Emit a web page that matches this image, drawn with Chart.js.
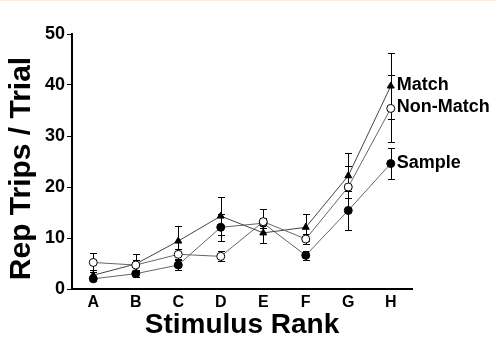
<!DOCTYPE html>
<html>
<head>
  <title>Stimulus Rank</title>
  <script src="https://cdn.jsdelivr.net/npm/chart.js"></script>
  <style>
    html, body { margin: 0; padding: 0; background: #fff; }
    body { border-top: 1px solid #fdf0d8; box-sizing: border-box; }
    canvas { display: block; }
  </style>
</head>
<body>
  <canvas id="chart" width="496" height="343"></canvas>

  <script>
    const ranks = ["A", "B", "C", "D", "E", "F", "G", "H"];

    const matchVals = [2.7, 4.9, 9.4, 14.3, 11.0, 12.1, 22.2, 39.8];
    const matchErr = [1.0, 2.0, 2.9, 3.7, 2.0, 2.6, 4.4, 6.4];

    const nonMatchVals = [5.2, 4.7, 6.8, 6.4, 13.2, 9.8, 20.0, 35.4];
    const nonMatchErr = [1.8, 1.0, 1.0, 1.0, 2.5, 1.0, 4.2, 6.5];

    const sampleVals = [2.0, 3.0, 4.7, 12.1, 12.9, 6.6, 15.4, 24.6];
    const sampleErr = [0.5, 0.6, 1.0, 2.7, 1.0, 0.9, 3.8, 3.0];

    const seriesNames = ["Non-Match", "Match", "Sample"];
    const yTitle = "Rep Trips / Trial";
    const xTitle = "Stimulus Rank";

    const FONT = "'Liberation Sans', Arial, sans-serif";
    const ctx = document.getElementById("chart").getContext("2d");

    // vertical error bars with small caps, drawn under the markers
    const errorBars = {
      id: "errorBars",
      beforeDatasetsDraw(chart) {
        const c = chart.ctx, y = chart.scales.y;
        c.save();
        c.strokeStyle = "#000";
        c.lineWidth = 1;
        chart.data.datasets.forEach((ds, i) => {
          const meta = chart.getDatasetMeta(i);
          meta.data.forEach((pt, j) => {
            const v = ds.data[j], e = ds.err[j];
            const top = Math.round(y.getPixelForValue(v + e)) + 0.5;
            const bot = Math.round(y.getPixelForValue(v - e)) + 0.5;
            const x = Math.round(pt.x) + 0.5;
            c.beginPath();
            c.moveTo(x, top); c.lineTo(x, bot);
            c.moveTo(x - 3.5, top); c.lineTo(x + 3.5, top);
            c.moveTo(x - 3.5, bot); c.lineTo(x + 3.5, bot);
            c.stroke();
          });
        });
        c.restore();
      }
    };

    // series names next to the last point, plus the rotated y title
    const labels = {
      id: "labels",
      afterDatasetsDraw(chart) {
        const c = chart.ctx;
        c.save();
        c.fillStyle = "#000";
        c.font = "bold 18px " + FONT;
        c.textBaseline = "middle";
        c.textAlign = "left";
        chart.data.datasets.forEach((ds, i) => {
          const meta = chart.getDatasetMeta(i);
          const pt = meta.data[meta.data.length - 1];
          c.fillText(ds.label, pt.x + 6, pt.y - 1);
        });

        const area = chart.chartArea;
        c.font = "bold 30px " + FONT;
        c.textAlign = "center";
        c.translate(22, (area.top + area.bottom) / 2 + 7);
        c.rotate(-Math.PI / 2);
        c.fillText(yTitle, 0, 0);
        c.restore();
      }
    };

    new Chart(ctx, {
      type: "line",
      data: {
        labels: ranks,
        datasets: [
          {
            label: seriesNames[0],
            data: nonMatchVals,
            err: nonMatchErr,
            borderColor: "#666",
            borderWidth: 1,
            pointStyle: "circle",
            pointRadius: 4,
            pointBackgroundColor: "#fff",
            pointBorderColor: "#000",
            pointBorderWidth: 1
          },
          {
            label: seriesNames[1],
            data: matchVals,
            err: matchErr,
            borderColor: "#444",
            borderWidth: 1,
            pointStyle: "triangle",
            pointRadius: 4,
            pointBackgroundColor: "#000",
            pointBorderColor: "#000",
            pointBorderWidth: 1
          },
          {
            label: seriesNames[2],
            data: sampleVals,
            err: sampleErr,
            borderColor: "#666",
            borderWidth: 1,
            pointStyle: "circle",
            pointRadius: 4,
            pointBackgroundColor: "#000",
            pointBorderColor: "#000",
            pointBorderWidth: 1
          }
        ]
      },
      options: {
        responsive: false,
        animation: false,
        layout: { padding: { left: 0, top: 33, right: 84, bottom: 0 } },
        plugins: {
          legend: { display: false },
          tooltip: { enabled: false }
        },
        scales: {
          x: {
            type: "category",
            offset: true,
            afterFit(s) { s.height = 55; },
            grid: { display: true, drawOnChartArea: false, drawTicks: false },
            border: { display: true, color: "#000", width: 2 },
            ticks: {
              color: "#000",
              padding: 4,
              font: { family: FONT, size: 16, weight: "bold" }
            },
            title: {
              display: true,
              text: xTitle,
              color: "#000",
              padding: { top: 0, bottom: 2 },
              font: { family: FONT, size: 28, weight: "bold" }
            }
          },
          y: {
            min: 0,
            max: 50,
            afterFit(s) { s.width = 72; },
            grid: { display: true, drawOnChartArea: false, drawTicks: true, tickLength: 5, color: "#000" },
            border: { display: true, color: "#000", width: 2 },
            ticks: {
              stepSize: 10,
              color: "#000",
              padding: 2,
              font: { family: FONT, size: 18, weight: "bold" }
            }
          }
        }
      },
      plugins: [errorBars, labels]
    });
  </script>
</body>
</html>
